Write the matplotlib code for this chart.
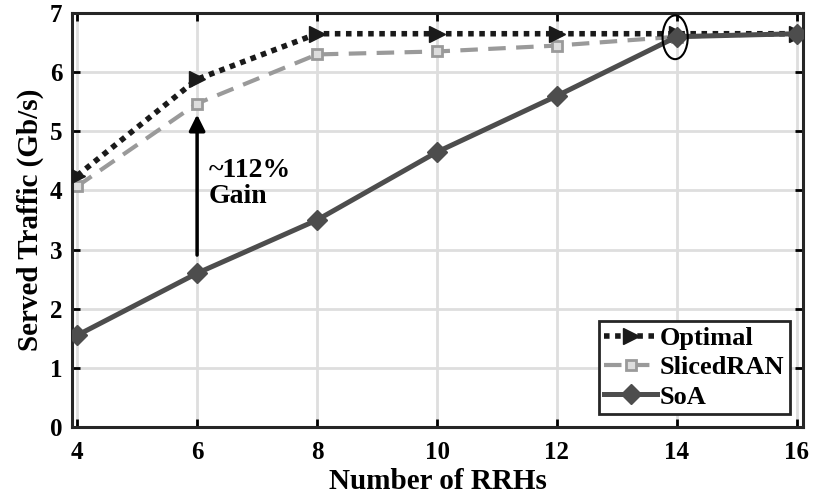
import matplotlib.pyplot as plt
from matplotlib.patches import Ellipse

rrhs = [4, 6, 8, 10, 12, 14, 16]
optimal = [4.25, 5.88, 6.65, 6.65, 6.65, 6.65, 6.65]
sliced_ran = [4.07, 5.47, 6.30, 6.35, 6.45, 6.60, 6.65]
soa = [1.55, 2.60, 3.50, 4.65, 5.60, 6.60, 6.65]

plt.rcParams['font.family'] = ['Liberation Serif', 'DejaVu Serif']
plt.rcParams['font.weight'] = 'bold'

fig = plt.figure(figsize=(8.13, 5.03), dpi=100)
ax = fig.add_axes([0.0886, 0.1511, 0.899, 0.823])

ax.plot(rrhs, optimal, linestyle=(0, (1, 1)), dash_capstyle='butt', color='#1a1a1a',
        linewidth=4, marker='>', markersize=11, label='Optimal', zorder=3)
ax.plot(rrhs, sliced_ran, linestyle=(0, (4.2, 2.5)), color='#9a9a9a', linewidth=3,
        marker='s', markersize=7, markerfacecolor='#dddddd', markeredgewidth=2,
        label='SlicedRAN', zorder=2)
ax.plot(rrhs, soa, linestyle='-', color='#4d4d4d', linewidth=3.6,
        marker='D', markersize=10, label='SoA', zorder=4)

# gain annotation
ax.annotate('', xy=(6, 5.33), xytext=(6, 2.86),
            arrowprops=dict(arrowstyle='-|>', color='black', lw=2.5, mutation_scale=24))
ax.text(6.2, 4.12, '~112%\nGain', fontsize=20, fontweight='bold',
        va='center', ha='left', linespacing=1.05)

ax.add_patch(Ellipse((13.97, 6.59), 0.42, 0.74, fill=False, edgecolor='black',
                     linewidth=1.5, zorder=5))

ax.set_xlim(3.915, 16.1)
ax.set_ylim(0, 7)
ax.set_xticks(range(4, 17, 2))
ax.set_yticks(range(0, 8))
ax.grid(True, color='#dedede', linewidth=2)
ax.set_axisbelow(True)
ax.tick_params(direction='in', labelsize=18, length=6, width=2, top=True, right=True)
ax.tick_params(axis='x', pad=10)
ax.tick_params(axis='y', pad=7)
for s in ax.spines.values():
    s.set_linewidth(2.2)
    s.set_color('#262626')

ax.set_xlabel('Number of RRHs', fontsize=21, fontweight='bold', labelpad=3)
ax.set_ylabel('Served Traffic (Gb/s)', fontsize=21, fontweight='bold', labelpad=4)

leg = ax.legend(loc='lower right', fontsize=19, handlelength=2.0, handletextpad=0.1,
                borderpad=0.2, labelspacing=0.22, borderaxespad=0.5, fancybox=False)
leg.get_frame().set_edgecolor('#262626')
leg.get_frame().set_linewidth(2)
leg.get_frame().set_alpha(1)

fig.savefig('out.png', dpi=100)
